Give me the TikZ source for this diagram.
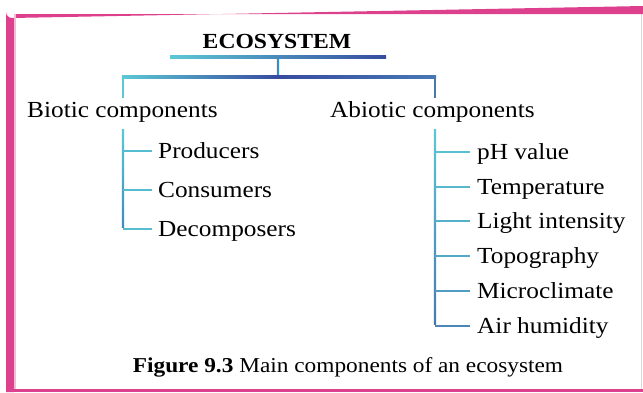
\documentclass[tikz,border=0pt]{standalone}
\usepackage{fontspec}
\setmainfont{Liberation Serif}[FakeStretch=1.1]
\definecolor{framepink}{RGB}{221,64,140}
\definecolor{lcyan}{RGB}{92,200,212}
\definecolor{lmid}{RGB}{60,140,190}
\definecolor{ldark}{RGB}{55,75,160}
\definecolor{lblue}{RGB}{70,120,180}
\begin{document}
\begin{tikzpicture}[x=1pt,y=-1pt,
  lbl/.style={anchor=west,inner sep=0pt,text height=15.2pt,text depth=0pt,font=\fontsize{23}{27}\selectfont},
  titlelbl/.style={inner sep=0pt,text height=14.2pt,text depth=0pt,font=\fontsize{21.5}{26}\selectfont\bfseries},
  caplbl/.style={inner sep=0pt,text height=14.2pt,text depth=0pt,font=\fontsize{21.2}{26}\selectfont}]
\useasboundingbox (0,0) rectangle (643,392);
\fill[white] (0,0) rectangle (643,392);
% frame
\fill[framepink] (6,392) -- (6,12) arc[start angle=180,end angle=90,radius=6] -- (643,6) -- (643,14) -- (14,14) -- (14,392) -- cycle;
\fill[framepink] (14,389) rectangle (643,392);
\fill[framepink!35] (14,14) rectangle (15.5,389);
\draw[framepink!30,line width=1] (641.5,14) -- (641.5,389);

% title and top connectors
\node[titlelbl] (eco) at (277,41) {ECOSYSTEM};
\coordinate (l1a) at (170,57);
\coordinate (l1b) at (386,57);
\coordinate (l1m) at (278,57);
\coordinate (l2m) at (278,77);
\coordinate (l2a) at (123,77);
\coordinate (l2b) at (435,77);
\coordinate (l2ad) at (123,98);
\coordinate (l2bd) at (435,98);
\shade[left color=lcyan,right color=ldark] ([yshift=-1.1]l1a) rectangle ([yshift=1.1]l1b);
\shade[top color=lmid,bottom color=lmid] ([xshift=-1.1]l1m) rectangle ([xshift=1.1]l2m);
\shade[left color=lcyan,right color=ldark] ([xshift=-1.1,yshift=-1.1]l2a) rectangle ([yshift=1.1]l2m);
\shade[left color=ldark,right color=lblue] ([yshift=-1.1]l2m) rectangle ([xshift=1.1,yshift=1.1]l2b);
\fill[lcyan] ([xshift=-1.1]l2a) rectangle ([xshift=1.1]l2ad);
\fill[lblue] ([xshift=-1.1]l2b) rectangle ([xshift=1.1]l2bd);

\node[lbl] (bio) at (27,110) {Biotic components};
\node[lbl] (abio) at (330,110) {Abiotic components};

% biotic subtree
\coordinate (bt) at (123,129);
\coordinate (bb) at (123,229);
\shade[top color=lcyan,bottom color=lmid] ([xshift=-1.1]bt) rectangle ([xshift=1.1,yshift=1.1]bb);
\node[lbl] (p1) at (158,151) {Producers};
\node[lbl] (p2) at (158,190) {Consumers};
\node[lbl] (p3) at (158,229) {Decomposers};
\foreach \n in {p1,p2,p3}{
  \draw[lcyan!80!lmid,line width=2.2] (bt |- \n.west) -- ([xshift=-6]\n.west);
}

% abiotic subtree
\coordinate (at) at (435,129);
\coordinate (ab) at (435,326);
\shade[top color=lcyan,bottom color=lblue] ([xshift=-1.1]at) rectangle ([xshift=1.1,yshift=1.1]ab);
\node[lbl] (a1) at (477,152) {pH value};
\node[lbl] (a2) at (477,187) {Temperature};
\node[lbl] (a3) at (477,221) {Light intensity};
\node[lbl] (a4) at (477,256) {Topography};
\node[lbl] (a5) at (477,291) {Microclimate};
\node[lbl] (a6) at (477,326) {Air humidity};
\foreach \n/\c in {a1/90,a2/80,a3/70,a4/60,a5/45,a6/20}{
  \draw[lcyan!\c!lblue,line width=2.2] (at |- \n.west) -- ([xshift=-7]\n.west);
}

% caption
\node[caplbl] (cap) at (348,365) {\textbf{Figure 9.3} Main components of an ecosystem};
\end{tikzpicture}
\end{document}
